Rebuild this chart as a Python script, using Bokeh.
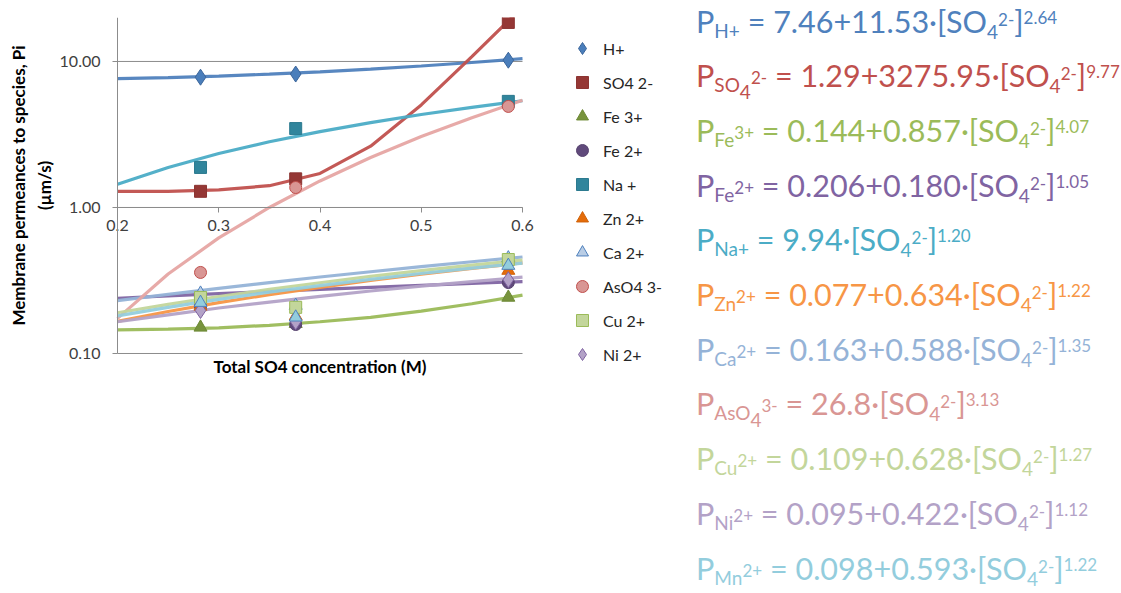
from bokeh.plotting import figure
from bokeh.models import (FixedTicker, PrintfTickFormatter, Legend,
                          LegendItem, Div, Range1d, Label)
from bokeh.layouts import row
from bokeh.embed import file_html
from bokeh.resources import INLINE

# ---------------- data ----------------
x_ticks = [0.2, 0.3, 0.4, 0.5, 0.6]
y_ticks = [0.1, 1, 10]
y_max = 20

# measured concentrations (M)
x_data = [0.282, 0.376, 0.586]
# measured permeances (um/s)
H_data = [7.8, 8.2, 10.2]
SO4_data = [1.29, 1.57, 18.5]
Fe3_data = [0.151, 0.160, 0.242]
Fe2_data = [0.210, 0.158, 0.306]
Na_data = [1.88, 3.47, 5.33]
Zn_data = [0.210, 0.180, 0.370]
Ca_data = [0.258, 0.213, 0.450]
As_data = [0.359, 1.37, 4.92]
Cu_data = [0.242, 0.207, 0.440]
Ni_data = [0.197, 0.165, 0.320]
Mn_data = [0.223, 0.177, 0.400]

# fitted curves
fit_x = [0.2, 0.25, 0.3, 0.35, 0.4, 0.45, 0.5, 0.55, 0.6]
H_fit = [7.62, 7.76, 7.94, 8.18, 8.49, 8.86, 9.31, 9.84, 10.45]
SO4_fit = [1.29, 1.29, 1.32, 1.41, 1.71, 2.63, 5.04, 10.8, 23.6]
Fe3_fit = [0.145, 0.147, 0.150, 0.156, 0.165, 0.177, 0.195, 0.219, 0.251]
Fe2_fit = [0.239, 0.248, 0.257, 0.266, 0.275, 0.284, 0.293, 0.302, 0.311]
Na_fit = [1.44, 1.88, 2.34, 2.82, 3.31, 3.81, 4.33, 4.85, 5.38]
Zn_fit = [0.166, 0.194, 0.223, 0.253, 0.284, 0.316, 0.349, 0.383, 0.417]
Ca_fit = [0.230, 0.254, 0.279, 0.306, 0.334, 0.363, 0.394, 0.425, 0.458]
As_fit = [0.174, 0.350, 0.619, 1.00, 1.52, 2.20, 3.06, 4.12, 5.42]
Cu_fit = [0.190, 0.217, 0.245, 0.275, 0.305, 0.337, 0.369, 0.403, 0.437]
Ni_fit = [0.165, 0.184, 0.205, 0.225, 0.246, 0.268, 0.289, 0.311, 0.333]
Mn_fit = [0.181, 0.207, 0.235, 0.263, 0.292, 0.322, 0.353, 0.384, 0.416]

legend_labels = ["H+", "SO4 2-", "Fe 3+", "Fe 2+", "Na +", "Zn 2+", "Ca 2+",
                 "AsO4 3-", "Cu 2+", "Ni 2+"]

# equations: (species base, inner index, charge, a, b, exponent)
eq_base = ["H+", "SO", "Fe", "Fe", "Na+", "Zn", "Ca", "AsO", "Cu", "Ni", "Mn"]
eq_index = ["", "4", "", "", "", "", "", "4", "", "", ""]
eq_charge = ["", "2-", "3+", "2+", "", "2+", "2+", "3-", "2+", "2+", "2+"]
eq_a = ["7.46", "1.29", "0.144", "0.206", "", "0.077", "0.163", "", "0.109", "0.095", "0.098"]
eq_b = ["11.53", "3275.95", "0.857", "0.180", "9.94", "0.634", "0.588", "26.8", "0.628", "0.422", "0.593"]
eq_n = ["2.64", "9.77", "4.07", "1.05", "1.20", "1.22", "1.35", "3.13", "1.27", "1.12", "1.22"]
eq_colors = ["#4F81BD", "#C0504D", "#9BBB59", "#8064A2", "#4BACC6", "#F79646",
             "#95B3D7", "#D99694", "#C3D69B", "#B3A2C7", "#93CDDD"]

# ---------------- layout constants ----------------
FONT = "Lato"
GREY = "#8c8c8c"
TXT = "#404040"
PX_PER_X = 1012.5          # pixels per 1 M on the x axis
PX_PER_DEC = 146.0         # pixels per decade on the y axis
LEFT_PX = 117              # pixel of x = 0.2
FRAME_W = 680
FRAME_TOP = 17
FRAME_H = 368
BOTTOM_EXTRA = 32          # pixels of frame below y = 0.1

x_lo = x_ticks[0] - LEFT_PX / PX_PER_X
x_hi = x_lo + FRAME_W / PX_PER_X
y_lo = 10 ** (-1 - BOTTOM_EXTRA / PX_PER_DEC)

p = figure(output_backend="svg", toolbar_location=None, y_axis_type="log",
           x_range=Range1d(x_lo, x_hi), y_range=Range1d(y_lo, y_max),
           frame_width=FRAME_W, frame_height=FRAME_H,
           min_border_left=0, min_border_top=FRAME_TOP, min_border_right=0,
           min_border_bottom=0)
p.outline_line_color = None
p.background_fill_color = "white"
p.xgrid.visible = False
p.ygrid.visible = False

# horizontal gridlines between x = 0.2 and 0.6
p.segment(x0=[x_ticks[0]] * len(y_ticks), x1=[x_ticks[-1]] * len(y_ticks),
          y0=y_ticks, y1=y_ticks, line_color=GREY, line_width=1)

# y axis at x = 0.2
ya = p.yaxis[0]
ya.fixed_location = x_ticks[0]
ya.bounds = (y_ticks[0], y_max)
ya.ticker = FixedTicker(ticks=y_ticks)
ya.formatter = PrintfTickFormatter(format="%.2f")
ya.axis_line_color = GREY
ya.major_tick_line_color = GREY
ya.major_tick_out = 5
ya.major_tick_in = 0
ya.minor_tick_line_color = None
ya.major_label_standoff = 12
ya.major_label_text_font = FONT
ya.major_label_text_font_size = "16px"
ya.major_label_text_color = TXT
ya.axis_label = "Membrane permeances to species, Pi\n(µm/s)"
ya.axis_label_text_font = FONT
ya.axis_label_text_font_style = "bold"
ya.axis_label_text_font_size = "17px"
ya.axis_label_text_color = "black"
ya.axis_label_standoff = 2

# x axis crossing at y = 1
xa = p.xaxis[0]
xa.fixed_location = 1.0
xa.bounds = (x_ticks[0], x_ticks[-1])
xa.ticker = FixedTicker(ticks=x_ticks)
xa.axis_line_color = GREY
xa.major_tick_line_color = GREY
xa.major_tick_out = 5
xa.major_tick_in = 0
xa.minor_tick_line_color = None
xa.major_label_standoff = 8
xa.major_label_text_font = FONT
xa.major_label_text_font_size = "16px"
xa.major_label_text_color = TXT

# x-axis title under the plot area
p.add_layout(Label(x=(x_ticks[0] + x_ticks[-1]) / 2, y=10 ** (-1 - 13 / PX_PER_DEC),
                   text="Total SO4 concentration (M)", text_align="center",
                   text_baseline="middle", text_font=FONT, text_font_style="bold",
                   text_font_size="17px", text_color="black"))

# ---------------- fitted lines ----------------
fits = [(H_fit, "#4F81BD"), (SO4_fit, "#C0504D"), (Fe3_fit, "#9BBB59"),
        (Fe2_fit, "#8064A2"), (Na_fit, "#4BACC6"), (Zn_fit, "#F79646"),
        (Ca_fit, "#95B3D7"), (As_fit, "#E6A5A3"), (Cu_fit, "#C3D69B"),
        (Ni_fit, "#B3A2C7"), (Mn_fit, "#93CDDD")]
for ys, c in fits:
    p.line(fit_x, ys, line_color=c, line_width=3.2, line_alpha=0.95)

# ---------------- markers ----------------
series = [
    (H_data, "diamond", 16, "#4A7EBB", "#3B659A"),
    (SO4_data, "square", 12, "#953735", "#8C3432"),
    (Fe3_data, "triangle", 13, "#77933C", "#6E8A36"),
    (Fe2_data, "circle", 12, "#604A7B", "#57436F"),
    (Na_data, "square", 12, "#31859C", "#2C7A8F"),
    (Zn_data, "triangle", 13, "#E46C0A", "#D06209"),
    (Ca_data, "triangle", 13, "#B9CDE5", "#4F81BD"),
    (As_data, "circle", 12, "#D99694", "#C0504D"),
    (Cu_data, "square", 12, "#C3D69B", "#9BBB59"),
    (Ni_data, "diamond", 16, "#B3A2C7", "#8064A2"),
]
items = []
for (ys, mk, sz, fc, lc), lab in zip(series, legend_labels):
    r = p.scatter(x_data, ys, marker=mk, size=sz,
                  fill_color=fc, line_color=lc, line_width=1)
    items.append(LegendItem(label=lab, renderers=[r]))
# Mn2+ points (not in legend)
p.scatter(x_data, Mn_data, marker="triangle", size=13,
          fill_color="#93CDDD", line_color="#4F81BD", line_width=1)

legend = Legend(items=items, location=(567, 16), orientation="vertical",
                glyph_width=30, glyph_height=30, label_height=30, spacing=4,
                padding=0, margin=0, label_standoff=6,
                label_text_font=FONT, label_text_font_size="16px",
                label_text_color="#262626",
                border_line_color=None, background_fill_alpha=0)
p.add_layout(legend)

# ---------------- equations ----------------
def span(t, dy, fs):
    return (f'<span style="position:relative;top:{dy}px;'
            f'font-size:{fs}px">{t}</span>')

lines = []
for i in range(len(eq_base)):
    sp = span(eq_base[i], 5, 19)
    if eq_index[i]:
        sp += span(eq_index[i], 12, 19)
    if eq_charge[i]:
        sp += span(eq_charge[i], -3, 17)
    rhs = ""
    if eq_a[i]:
        rhs += eq_a[i] + "+"
    rhs += eq_b[i] + "·[SO" + span("4", 6, 19) + span("2-", -7, 17) + "]" + span(eq_n[i], -9, 17)
    top = 0.5 + 54.7 * i
    lines.append(f'<div style="position:absolute;left:11px;top:{top:.1f}px;'
                 f'white-space:nowrap;line-height:30px;color:{eq_colors[i]}">'
                 f'P{sp} = {rhs}</div>')

html = (f'<div style="position:relative;width:440px;height:585px;'
        f'font-family:Lato;font-size:30.5px;">' + "".join(lines) + '</div>')
div = Div(text=html, width=440, height=585)

layout = row(p, div)
open("out.html", "w").write(file_html(layout, INLINE))
